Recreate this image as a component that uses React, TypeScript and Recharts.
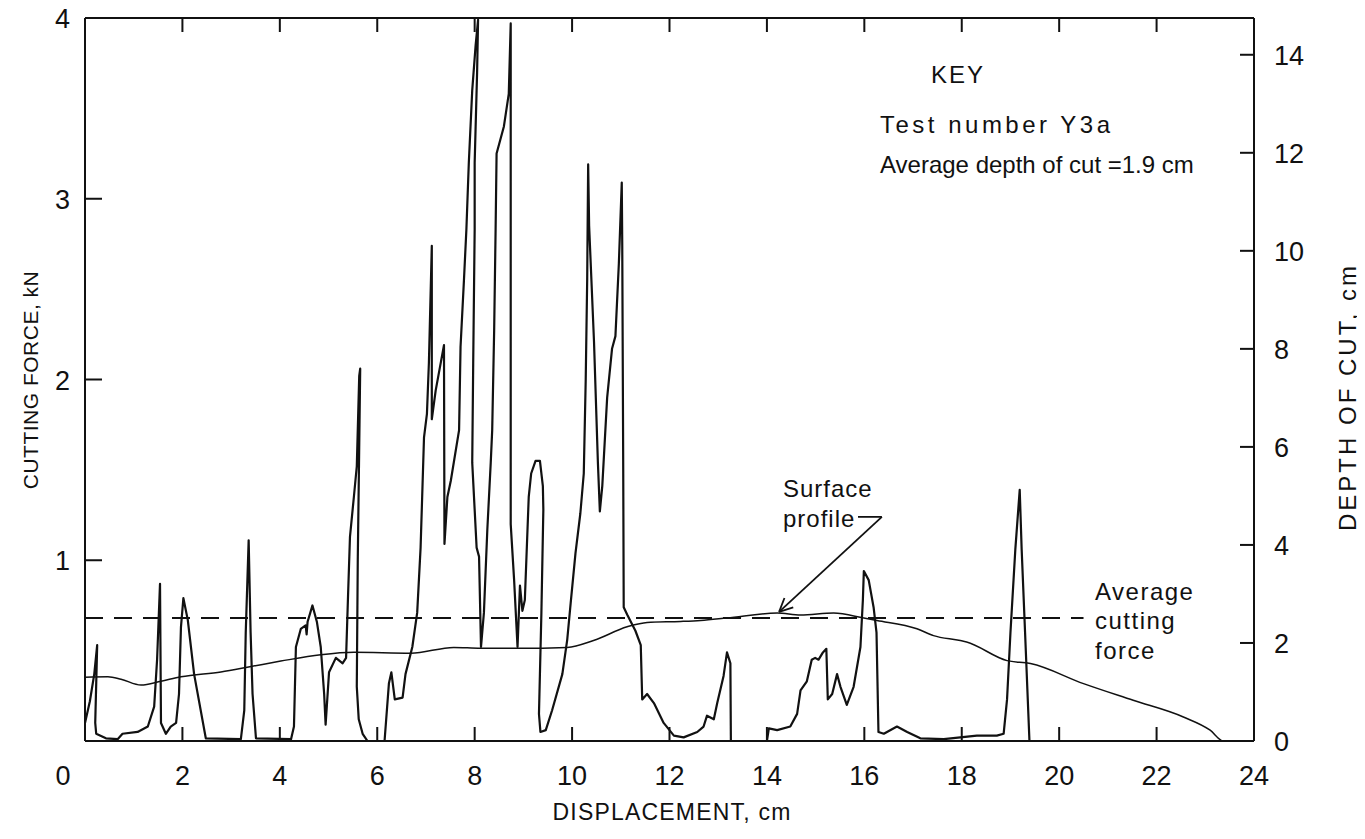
import React from 'react';
import { LineChart, Line, XAxis, YAxis, ReferenceLine } from 'recharts';

// displacement (cm) vs cutting force (kN), in pen-trace order
const cuttingForce: [number, number][] = [
  [0.0, 0.1], [0.1, 0.22], [0.19, 0.37], [0.25, 0.53], [0.21, 0.1], [0.23, 0.04], [0.43, 0.015],
  [0.67, 0.01], [0.77, 0.04], [1.08, 0.05], [1.29, 0.08], [1.42, 0.19], [1.48, 0.45], [1.54, 0.87],
  [1.56, 0.1], [1.66, 0.04], [1.76, 0.08], [1.87, 0.1], [1.93, 0.26], [1.97, 0.63], [2.02, 0.79],
  [2.11, 0.67], [2.24, 0.37], [2.48, 0.015], [3.2, 0.01], [3.27, 0.17], [3.3, 0.6], [3.36, 1.11],
  [3.4, 0.6], [3.44, 0.26], [3.51, 0.015], [4.23, 0.01], [4.29, 0.08], [4.33, 0.52], [4.43, 0.62],
  [4.53, 0.64], [4.55, 0.59], [4.57, 0.66], [4.67, 0.75], [4.76, 0.66], [4.84, 0.52], [4.91, 0.26],
  [4.94, 0.09], [5.01, 0.38], [5.15, 0.46], [5.29, 0.43], [5.36, 0.46], [5.4, 0.8], [5.44, 1.13],
  [5.52, 1.35], [5.58, 1.52], [5.63, 2.02], [5.65, 2.06], [5.6, 1.0], [5.58, 0.3], [5.62, 0.12],
  [5.7, 0.04], [5.8, 0.0], [6.15, 0.0], [6.24, 0.32], [6.29, 0.38], [6.36, 0.23], [6.52, 0.24],
  [6.58, 0.37], [6.72, 0.52], [6.82, 0.71], [6.89, 1.07], [6.96, 1.68], [7.02, 1.81], [7.06, 2.09],
  [7.12, 2.74], [7.12, 1.78], [7.2, 1.94], [7.37, 2.19], [7.38, 1.09], [7.44, 1.35], [7.51, 1.44],
  [7.68, 1.72], [7.71, 2.18], [7.78, 2.55], [7.83, 2.83], [7.88, 3.2], [7.95, 3.6], [8.02, 3.85],
  [8.07, 3.99], [8.05, 3.7], [8.0, 3.2], [8.0, 2.83], [7.97, 2.09], [7.95, 1.54], [8.04, 1.07],
  [8.09, 1.02], [8.13, 0.52], [8.19, 0.71], [8.26, 1.17], [8.33, 1.54], [8.36, 1.72], [8.4, 2.27],
  [8.43, 2.83], [8.45, 3.25], [8.6, 3.4], [8.7, 3.58], [8.74, 3.97], [8.74, 2.5], [8.74, 1.2],
  [8.81, 0.89], [8.88, 0.52], [8.93, 0.86], [8.98, 0.72], [9.03, 0.78], [9.11, 1.35], [9.16, 1.48],
  [9.25, 1.55], [9.34, 1.55], [9.4, 1.41], [9.41, 1.28], [9.37, 0.71], [9.32, 0.15], [9.35, 0.05],
  [9.46, 0.06], [9.59, 0.17], [9.8, 0.37], [9.9, 0.56], [9.97, 0.76], [10.07, 1.04], [10.17, 1.26],
  [10.24, 1.48], [10.28, 2.0], [10.31, 2.55], [10.33, 3.19], [10.35, 2.85], [10.45, 2.21],
  [10.53, 1.54], [10.57, 1.27], [10.62, 1.41], [10.72, 1.9], [10.82, 2.17], [10.89, 2.24],
  [10.96, 2.64], [11.02, 3.09], [11.03, 2.74], [11.05, 1.5], [11.06, 0.74], [11.13, 0.7],
  [11.3, 0.61], [11.41, 0.53], [11.44, 0.23], [11.54, 0.26], [11.68, 0.21], [11.88, 0.1],
  [12.09, 0.03], [12.29, 0.02], [12.57, 0.05], [12.7, 0.08], [12.77, 0.14], [12.91, 0.12],
  [12.98, 0.21], [13.11, 0.36], [13.18, 0.49], [13.25, 0.43], [13.26, 0.0], [14.0, 0.0],
  [14.04, 0.07], [14.21, 0.06], [14.48, 0.08], [14.62, 0.15], [14.69, 0.28], [14.82, 0.33],
  [14.92, 0.45], [14.99, 0.46], [15.06, 0.45], [15.15, 0.49], [15.22, 0.51], [15.25, 0.23],
  [15.34, 0.26], [15.44, 0.37], [15.51, 0.3], [15.64, 0.2], [15.78, 0.3], [15.92, 0.52],
  [15.97, 0.78], [15.99, 0.94], [16.09, 0.89], [16.19, 0.74], [16.25, 0.6], [16.29, 0.05],
  [16.4, 0.04], [16.67, 0.08], [16.88, 0.05], [17.15, 0.015], [17.63, 0.01], [18.31, 0.03],
  [18.72, 0.03], [18.86, 0.04], [18.93, 0.23], [19.0, 0.6], [19.1, 1.06], [19.19, 1.39],
  [19.23, 1.06], [19.3, 0.6], [19.39, 0.0],
];

// displacement (cm) vs depth of cut (cm)
const surfaceProfile: [number, number][] = [
  [0, 1.3], [0.47, 1.31], [0.74, 1.26], [1.15, 1.14], [1.56, 1.22], [1.97, 1.31], [2.79, 1.41],
  [3.41, 1.52], [4.02, 1.63], [4.84, 1.76], [5.52, 1.81], [6.69, 1.79], [7.57, 1.91], [8.12, 1.89],
  [8.88, 1.89], [9.9, 1.91], [10.44, 2.05], [11.13, 2.33], [11.54, 2.42], [12.23, 2.44],
  [12.64, 2.46], [13.18, 2.51], [14.21, 2.61], [14.69, 2.57], [15.37, 2.61], [15.99, 2.51],
  [16.26, 2.46], [17.08, 2.29], [17.42, 2.15], [17.97, 2.05], [18.1, 2.02], [18.93, 1.64],
  [19.41, 1.58], [20.5, 1.17], [21.52, 0.83], [22.55, 0.49], [23.1, 0.22], [23.37, 0], [24, 0],
];

const avgForceSpan = [0, 20.5];
const avgForce = 0.68;

const xTicks = [0, 2, 4, 6, 8, 10, 12, 14, 16, 18, 20, 22, 24];
const forceTicks = [0, 1, 2, 3, 4];
const depthTicks = [0, 2, 4, 6, 8, 10, 12, 14];

// "Surface profile" pointer: stub, shaft and open arrowhead (displacement, kN)
const pointerStub = [[15.87, 1.24], [16.36, 1.24]];
const pointerShaft = [[16.36, 1.24], [14.25, 0.714]];
const pointerWings = [[14.54, 0.739], [14.36, 0.791]];

const W = 1357;
const H = 835;
const FONT = '"Liberation Sans", Arial, sans-serif';
const INK = '#111';
const TICK = 14;

const forceData = cuttingForce.map(([x, f]) => ({ x, f }));
const profileData = surfaceProfile.map(([x, d]) => ({ x, d }));
const avgData = avgForceSpan.map((x) => ({ x, a: avgForce }));

const BottomTick = (props: any) => {
  const { x, y, payload } = props;
  const v = payload.value;
  return (
    <g>
      {v !== 0 && v !== 24 && <line x1={x} y1={y} x2={x} y2={y - TICK} stroke={INK} strokeWidth={2} />}
      <text x={v === 0 ? x - 22 : x} y={y + 44} textAnchor="middle" fontSize={27} fontFamily={FONT} fill={INK}>
        {v}
      </text>
    </g>
  );
};

const TopTick = (props: any) => {
  const { x, y, payload } = props;
  const v = payload.value;
  if (v === 0 || v === 24) return <g />;
  return <line x1={x} y1={y} x2={x} y2={y + TICK} stroke={INK} strokeWidth={2} />;
};

const LeftTick = (props: any) => {
  const { x, y, payload } = props;
  const v = payload.value;
  if (v === 0) return <g />;
  return (
    <g>
      {v !== 4 && <line x1={x} y1={y} x2={x + TICK + 3} y2={y} stroke={INK} strokeWidth={2} />}
      <text x={x - 15} y={y + 10} textAnchor="end" fontSize={27} fontFamily={FONT} fill={INK}>
        {v}
      </text>
    </g>
  );
};

const RightTick = (props: any) => {
  const { x, y, payload } = props;
  const v = payload.value;
  return (
    <g>
      {v !== 0 && <line x1={x} y1={y} x2={x - TICK} y2={y} stroke={INK} strokeWidth={2} />}
      <text x={x + 20} y={y + 10} textAnchor="start" fontSize={27} fontFamily={FONT} fill={INK}>
        {v}
      </text>
    </g>
  );
};

const label = (left: number, top: number, size: number, extra: React.CSSProperties = {}): React.CSSProperties => ({
  position: 'absolute',
  left,
  top,
  fontSize: size,
  lineHeight: 1,
  whiteSpace: 'nowrap',
  color: INK,
  letterSpacing: 1.5,
  transform: 'translateY(-50%)',
  ...extra,
});

const seg = (pts: number[][]) => pts.map(([x, y]) => ({ x, y }));

const App: React.FC = () => {
  return (
    <div style={{ position: 'relative', width: W, height: H, marginTop: -8, background: '#fff', fontFamily: FONT }}>
      <LineChart width={W} height={H} margin={{ top: 17, right: 0, bottom: 0, left: 0 }}>
        <XAxis
          xAxisId="bottom"
          dataKey="x"
          type="number"
          domain={[0, 24]}
          ticks={xTicks}
          interval={0}
          height={94}
          allowDataOverflow
          tickSize={0}
          tickMargin={0}
          tickLine={false}
          axisLine={{ stroke: INK, strokeWidth: 2 }}
          tick={BottomTick}
        />
        <XAxis
          xAxisId="top"
          orientation="top"
          dataKey="x"
          type="number"
          domain={[0, 24]}
          ticks={xTicks}
          interval={0}
          height={1}
          allowDataOverflow
          tickSize={0}
          tickMargin={0}
          tickLine={false}
          axisLine={{ stroke: INK, strokeWidth: 2 }}
          tick={TopTick}
        />
        <YAxis
          yAxisId="force"
          type="number"
          domain={[0, 4]}
          ticks={forceTicks}
          interval={0}
          width={77}
          allowDataOverflow
          tickSize={0}
          tickMargin={0}
          tickLine={false}
          axisLine={{ stroke: INK, strokeWidth: 2 }}
          tick={LeftTick}
        />
        <YAxis
          yAxisId="depth"
          orientation="right"
          type="number"
          domain={[0, 14.75]}
          ticks={depthTicks}
          interval={0}
          width={111}
          allowDataOverflow
          tickSize={0}
          tickMargin={0}
          tickLine={false}
          axisLine={{ stroke: INK, strokeWidth: 2 }}
          tick={RightTick}
        />
        <Line
          xAxisId="bottom"
          yAxisId="force"
          data={avgData}
          dataKey="a"
          type="linear"
          stroke={INK}
          strokeWidth={2}
          strokeDasharray="18 11"
          dot={false}
          activeDot={false}
          isAnimationActive={false}
        />
        <Line
          xAxisId="bottom"
          yAxisId="depth"
          data={profileData}
          dataKey="d"
          type="monotone"
          stroke={INK}
          strokeWidth={1.5}
          dot={false}
          activeDot={false}
          isAnimationActive={false}
        />
        <Line
          xAxisId="bottom"
          yAxisId="force"
          data={forceData}
          dataKey="f"
          type="linear"
          stroke={INK}
          strokeWidth={2.2}
          strokeLinejoin="round"
          dot={false}
          activeDot={false}
          isAnimationActive={false}
        />
        <ReferenceLine xAxisId="bottom" yAxisId="force" segment={seg(pointerStub)} stroke={INK} strokeWidth={1.8} ifOverflow="visible" />
        <ReferenceLine xAxisId="bottom" yAxisId="force" segment={seg(pointerShaft)} stroke={INK} strokeWidth={1.8} ifOverflow="visible" />
        <ReferenceLine xAxisId="bottom" yAxisId="force" segment={seg([pointerShaft[1], pointerWings[0]])} stroke={INK} strokeWidth={1.8} ifOverflow="visible" />
        <ReferenceLine xAxisId="bottom" yAxisId="force" segment={seg([pointerShaft[1], pointerWings[1]])} stroke={INK} strokeWidth={1.8} ifOverflow="visible" />
      </LineChart>

      <div style={label(950, 75, 24, { transform: 'translate(-50%, -50%)', letterSpacing: 2 })}>KEY</div>
      <div style={label(872, 125, 24, { letterSpacing: 3.5 })}>Test number Y3a</div>
      <div style={label(872, 165, 24, { letterSpacing: 0 })}>Average depth of cut =1.9 cm</div>

      <div style={label(775, 489, 24, { letterSpacing: 1 })}>Surface</div>
      <div style={label(775, 519, 24, { letterSpacing: 1 })}>profile</div>

      <div style={label(1087, 592, 24)}>Average</div>
      <div style={label(1087, 621, 24)}>cutting</div>
      <div style={label(1087, 651, 24)}>force</div>

      <div style={label(664, 812, 23, { transform: 'translate(-50%, -50%)', letterSpacing: 1.2 })}>DISPLACEMENT, cm</div>
      <div style={label(22, 380, 21, { transform: 'translate(-50%, -50%) rotate(-90deg)', letterSpacing: 0.5 })}>CUTTING FORCE, kN</div>
      <div style={label(1340, 397, 24, { transform: 'translate(-50%, -50%) rotate(-90deg)', letterSpacing: 3 })}>DEPTH OF CUT, cm</div>
    </div>
  );
};

export default App;
